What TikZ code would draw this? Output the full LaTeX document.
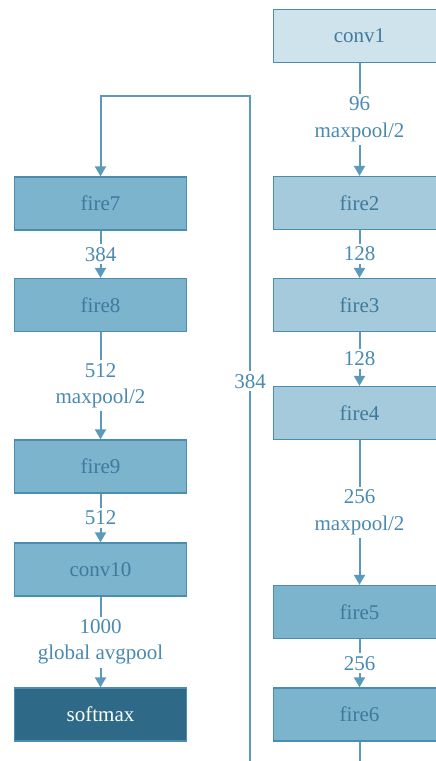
\documentclass[tikz,border=0pt]{standalone}
\usepackage{fontspec}
\setmainfont{Liberation Serif}
\usetikzlibrary{arrows.meta}
\definecolor{cA}{HTML}{CFE3EC}
\definecolor{cB}{HTML}{A4CADB}
\definecolor{cC}{HTML}{7CB3CD}
\definecolor{cD}{HTML}{2E6A87}
\definecolor{bord}{HTML}{4B8DB0}
\definecolor{btxt}{HTML}{3F7A9C}
\definecolor{ltxt}{HTML}{4A8AB0}
\definecolor{lin}{HTML}{5B9ABB}
\begin{document}
\begin{tikzpicture}[x=1pt,y=-1pt,
  box/.style={draw=bord,line width=1.3pt,minimum width=172pt,minimum height=53pt,inner sep=0pt,
    text=btxt,font=\fontsize{21}{26.5}\selectfont},
  conn/.style={draw=lin,line width=2pt,-{Triangle[width=11pt,length=10pt]}},
  lbl/.style={fill=white,text=ltxt,align=center,inner sep=3pt,font=\fontsize{21}{26.5}\selectfont}]
\useasboundingbox (0,0) rectangle (436,761);
\clip (0,0) rectangle (436,761);
% right column
\node[box,fill=cA] (conv1) at (359.5,36) {conv1};
\node[box,fill=cB] (fire2) at (359.5,203) {fire2};
\node[box,fill=cB] (fire3) at (359.5,305) {fire3};
\node[box,fill=cB] (fire4) at (359.5,413) {fire4};
\node[box,fill=cC] (fire5) at (359.5,612) {fire5};
\node[box,fill=cC] (fire6) at (359.5,714.5) {fire6};
% left column
\node[box,fill=cC] (fire7) at (100.5,203.5) {fire7};
\node[box,fill=cC] (fire8) at (100.5,305) {fire8};
\node[box,fill=cC] (fire9) at (100.5,466.5) {fire9};
\node[box,fill=cC] (conv10) at (100.5,569.5) {conv10};
\node[box,fill=cD,text=white] (softmax) at (100.5,714.5) {softmax};
% connectors
\draw[conn] (conv1) -- node[lbl]{96\\maxpool/2} (fire2);
\draw[conn] (fire2) -- node[lbl]{128} (fire3);
\draw[conn] (fire3) -- node[lbl]{128} (fire4);
\draw[conn] (fire4) -- node[lbl]{256\\maxpool/2} (fire5);
\draw[conn] (fire5) -- node[lbl]{256} (fire6);
\coordinate (b1) at (359.5,790);
\coordinate (b2) at (250,790);
\coordinate (t1) at (250,95.5);
\coordinate (t2) at (100.5,95.5);
\draw[conn] (fire6) -- (b1) -- (b2) -- node[lbl,pos=0.5885]{384} (t1) -- (t2) -- (fire7);
\draw[conn] (fire7) -- node[lbl]{384} (fire8);
\draw[conn] (fire8) -- node[lbl]{512\\maxpool/2} (fire9);
\draw[conn] (fire9) -- node[lbl]{512} (conv10);
\draw[conn] (conv10) -- node[lbl]{1000\\global avgpool} (softmax);
\end{tikzpicture}
\end{document}
